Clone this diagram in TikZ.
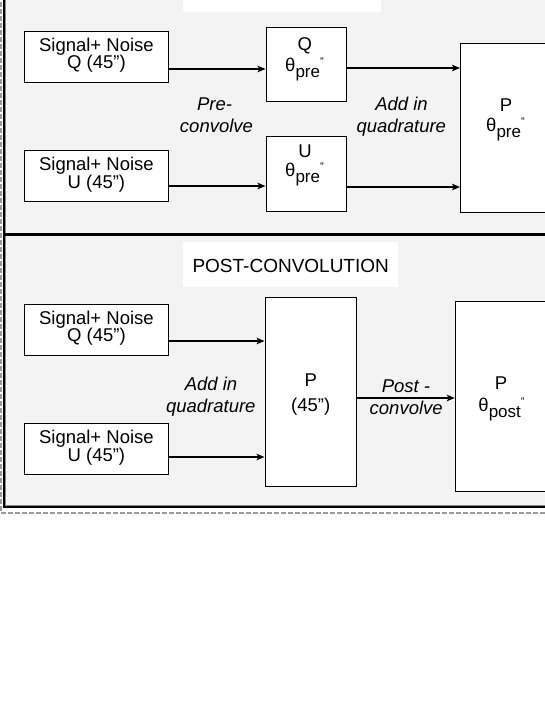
\documentclass[tikz,border=0pt]{standalone}
\usepackage{fontspec}
\setmainfont{Liberation Sans}
\usetikzlibrary{arrows.meta}
\definecolor{panel}{gray}{0.953}
\definecolor{framegray}{gray}{0.55}
\definecolor{dashgray}{gray}{0.6}
\newcommand\thsub[1]{θ\raisebox{-6pt}{\fontsize{17}{17}\selectfont #1}\raisebox{6pt}{\fontsize{11}{11}\selectfont ”}}
\begin{document}
\begin{tikzpicture}[x=1pt,y=-1pt,
  box/.style={draw=black, line width=1pt, fill=white, inner sep=0pt},
  titlebox/.style={fill=white, inner sep=0pt},
  txt/.style={font=\fontsize{18.5}{18.5}\selectfont, inner sep=0pt, anchor=base},
  ital/.style={font=\fontsize{18.5}{18.5}\selectfont\itshape, inner sep=0pt, anchor=base},
  ttl/.style={font=\fontsize{19}{19}\selectfont, inner sep=0pt, anchor=base},
  arr/.style={line width=1.6pt, -{Stealth[length=8pt,width=6.5pt,inset=2pt]}},
]
\useasboundingbox (0,0) rectangle (545,705);
\clip (0,0) rectangle (545,705);
% frame and panels
\fill[panel] (5.5,-5) rectangle (550,505);
\draw[dashgray, line width=1.6pt, dash pattern=on 5pt off 2pt] (0.9,-5) -- (0.9,512.8) -- (550,512.8);
\draw[black, line width=1.6pt] (4,-5) -- (4,506.8) -- (550,506.8);
\draw[framegray, line width=1.1pt] (5.6,-5) -- (5.6,505.2) -- (550,505.2);
\draw[black, line width=3pt] (4,234.5) -- (550,234.5);
% title boxes
\node[titlebox, minimum width=198pt, minimum height=52pt] (ttop) at (281.5,-14) {};
\node[titlebox, minimum width=215pt, minimum height=45.6pt] (tbot) at (290.5,264.5) {};
\node[ttl] (tbottxt) at (290.7,272.7) {POST-CONVOLUTION};
% ---------- top panel ----------
\node[box, minimum width=143.8pt, minimum height=51pt] (sq) at (96.4,56.6) {};
\node[box, minimum width=143.8pt, minimum height=51pt] (su) at (96.4,176.2) {};
\node[box, minimum width=80pt, minimum height=74.7pt] (bq) at (306,64.6) {};
\node[box, minimum width=80pt, minimum height=75pt] (bu) at (306,173.5) {};
\node[box, minimum width=86.5pt, minimum height=168.5pt] (pp) at (503.75,127.75) {};
\node[txt] (sq1) at (96.4,51.3) {Signal+ Noise};
\node[txt] (sq2) at (96.4,68.4) {Q (45”)};
\node[txt] (su1) at (96.4,170.9) {Signal+ Noise};
\node[txt] (su2) at (96.4,188) {U (45”)};
\node[txt] (bq1) at (304.7,50) {Q};
\node[txt] (bq2) at (304.5,71) {\thsub{pre}};
\node[txt] (bu1) at (305,157) {U};
\node[txt] (bu2) at (304.5,176) {\thsub{pre}};
\node[txt] (pp1) at (506,111.7) {P};
\node[txt] (pp2) at (505.5,131.7) {\thsub{pre}};
\node[ital] (lb1) at (214.5,110) {Pre-};
\node[ital] (lb2) at (216.5,132.5) {convolve};
\node[ital] (lb3) at (401.5,110) {Add in};
\node[ital] (lb4) at (401.3,132.5) {quadrature};
\coordinate (a1) at ([yshift=-12.4pt]sq.east);
\coordinate (a2) at ([yshift=-3.4pt]bq.east);
\coordinate (a3) at ([yshift=-9.8pt]su.east);
\coordinate (a4) at ([yshift=-13.5pt]bu.east);
\draw[arr] (a1) -- (a1 -| bq.west);
\draw[arr] (a2) -- (a2 -| pp.west);
\draw[arr] (a3) -- (a3 -| bu.west);
\draw[arr] (a4) -- (a4 -| pp.west);
% ---------- bottom panel ----------
\node[box, minimum width=143.8pt, minimum height=51pt] (sqb) at (96.4,329.5) {};
\node[box, minimum width=143.8pt, minimum height=51.5pt] (sub) at (96.4,449.2) {};
\node[box, minimum width=91.3pt, minimum height=189.4pt] (pf) at (310.65,392) {};
\node[box, minimum width=91.7pt, minimum height=190.5pt] (pg) at (501.15,396.25) {};
\node[txt] (sqb1) at (96.4,324.2) {Signal+ Noise};
\node[txt] (sqb2) at (96.4,341.3) {Q (45”)};
\node[txt] (sub1) at (96.4,443.9) {Signal+ Noise};
\node[txt] (sub2) at (96.4,461) {U (45”)};
\node[txt] (pf1) at (310.7,386.7) {P};
\node[txt] (pf2) at (310.7,411) {(45”)};
\node[txt] (pg1) at (501,389.3) {P};
\node[txt] (pg2) at (501.5,411.5) {\thsub{post}};
\node[ital] (lb5) at (211,390) {Add in};
\node[ital] (lb6) at (210.8,412) {quadrature};
\node[ital] (lb7) at (406,392.5) {Post -};
\node[ital] (lb8) at (406.2,414.5) {convolve};
\coordinate (b1) at ([yshift=-11.5pt]sqb.east);
\coordinate (b2) at ([yshift=-7.8pt]sub.east);
\coordinate (b3) at ([yshift=-6pt]pf.east);
\draw[arr] (b1) -- (b1 -| pf.west);
\draw[arr] (b2) -- (b2 -| pf.west);
\draw[arr] (b3) -- (b3 -| pg.west);
\end{tikzpicture}
\end{document}
